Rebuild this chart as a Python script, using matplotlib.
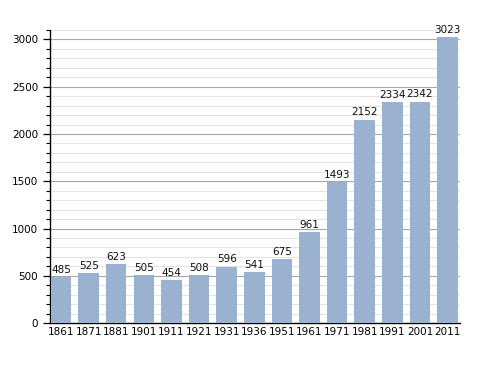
import matplotlib
matplotlib.use("Agg")
import matplotlib.pyplot as plt
from matplotlib.ticker import MultipleLocator

years = ["1861", "1871", "1881", "1901", "1911", "1921", "1931", "1936",
         "1951", "1961", "1971", "1981", "1991", "2001", "2011"]
population = [485, 525, 623, 505, 454, 508, 596, 541,
              675, 961, 1493, 2152, 2334, 2342, 3023]

BAR = "#9ab2cf"

fig = plt.figure(figsize=(4.88, 3.73), dpi=100)
ax = fig.add_axes([0.1025, 0.134, 0.84, 0.7855])

x = range(len(years))
ax.bar(x, population, width=0.74, color=BAR, zorder=3)
for xi, v in zip(x, population):
    ax.text(xi, v + 25, str(v), ha="center", va="bottom", fontsize=7.5, color="#111111")

ax.set_xlim(-0.4, len(years) - 0.55)
ax.set_ylim(0, 3100)
ax.set_xticks(list(x))
ax.set_xticklabels(years, fontsize=7.5)
ax.yaxis.set_major_locator(MultipleLocator(500))
ax.yaxis.set_minor_locator(MultipleLocator(100))
ax.tick_params(axis="y", labelsize=7.5, length=5, width=0.9)
ax.tick_params(axis="y", which="minor", length=3, width=0.8)
ax.tick_params(axis="x", length=0, pad=3)
ax.grid(True, axis="y", which="major", color="#a8a8a8", lw=0.8, zorder=0)
ax.grid(True, axis="y", which="minor", color="#e4e4e4", lw=0.8, zorder=0)

for s in ("top", "right"):
    ax.spines[s].set_visible(False)
ax.spines["left"].set_linewidth(1.0)
ax.spines["bottom"].set_linewidth(1.0)

fig.savefig("out.png", dpi=100)
